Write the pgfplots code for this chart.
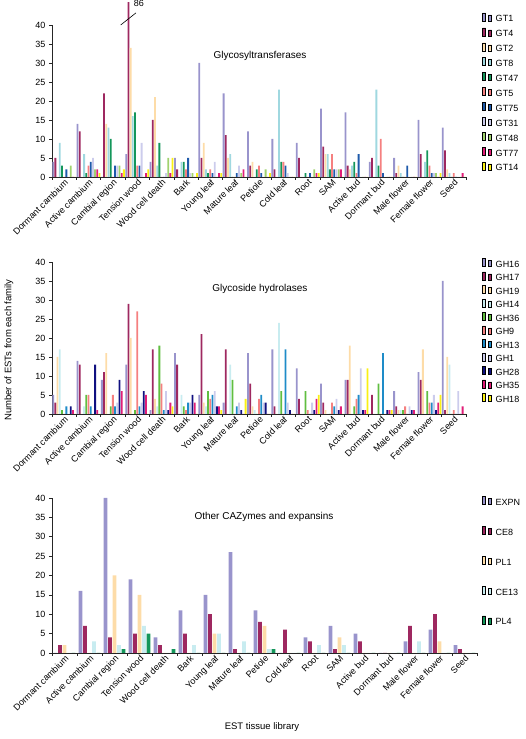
\documentclass[border=0pt]{standalone}
\usepackage{fontspec}
\setmainfont{Liberation Sans}
\usepackage{pgfplots}
\usepackage{pgfplotstable}
\pgfplotsset{compat=1.18}

\definecolor{cA}{RGB}{153,148,204}
\definecolor{cB}{RGB}{158,40,96}
\definecolor{cC}{RGB}{253,220,168}
\definecolor{cD}{RGB}{160,216,224}
\definecolor{cDl}{RGB}{200,236,240}
\definecolor{cE}{RGB}{20,150,90}
\definecolor{cEl}{RGB}{96,190,64}
\definecolor{cF}{RGB}{245,128,128}
\definecolor{cG}{RGB}{30,90,170}
\definecolor{cGl}{RGB}{30,140,200}
\definecolor{cH}{RGB}{204,204,236}
\definecolor{cI}{RGB}{160,210,110}
\definecolor{cN}{RGB}{16,16,128}
\definecolor{cJ}{RGB}{225,30,120}
\definecolor{cK}{RGB}{250,240,20}

% Glycosyltransferases (Tension wood GT4 = 86, drawn broken at 46)
\pgfplotstableread{
x GTa GTb GTc GTd GTe GTf GTg GTh GTi GTj GTk
0 4 5 0 9 3 0 2 0 3 0 0
1 14 12 0 6 1 3 4 5 2 2 1
2 0 22 14 13 10 0 3 3 3 1 2
3 6 46 34 16 17 3 3 9 0 1 2
4 4 15 21 3 9 0 0 1 5 1 5
5 5 2 0 4 4 2 5 1 1 0 1
6 30 5 9 2 1 2 1 4 0 1 1
7 22 11 5 6 0 0 1 3 1 2 0
8 12 3 4 0 2 3 1 0 2 0 1
9 10 2 0 23 4 4 3 1 0 0 0
10 9 5 0 0 1 0 1 0 2 1 1
11 18 8 6 6 2 6 2 2 2 2 0
12 17 3 2 3 4 1 6 0 0 0 0
13 4 5 0 23 3 10 1 0 0 0 0
14 5 1 3 1 0 0 3 0 0 0 0
15 15 6 0 4 7 3 1 1 1 0 1
16 13 7 2 1 0 1 0 0 0 1 0
}\gtdata

% Glycoside hydrolases
\pgfplotstableread{
x GHa GHb GHc GHd GHe GHf GHg GHh GHi GHj GHk
0 5 3 15 17 1 0 2 0 2 1 0
1 14 13 0 2 5 5 2 0 13 1 0
2 9 11 16 0 2 5 2 3 9 6 0
3 13 29 20 0 1 27 2 3 6 5 0
4 1 17 4 2 18 8 1 6 1 3 2
5 16 13 0 5 2 1 3 3 5 3 0
6 5 21 3 2 6 4 5 6 2 2 1
7 3 17 0 13 9 0 2 3 1 0 4
8 16 8 2 1 0 4 5 3 3 0 0
9 17 2 0 24 6 0 17 3 1 0 0
10 12 4 0 0 6 1 0 3 1 4 5
11 8 3 1 0 0 3 2 4 1 2 0
12 9 9 18 0 2 4 5 12 1 1 12
13 0 5 0 0 8 0 16 0 1 1 1
14 6 2 1 1 1 2 0 2 1 1 0
15 11 9 17 0 6 3 3 5 1 3 5
16 35 1 15 13 0 1 0 6 0 2 0
}\ghdata

% Other CAZymes and expansins
\pgfplotstableread{
x EXPN CEe PLa CEt PLd
0 0 2 2 0 0
1 16 7 0 3 0
2 40 4 20 2 1
3 19 5 15 7 5
4 4 2 0 0 1
5 11 5 0 2 0
6 15 10 5 5 0
7 26 1 0 3 0
8 11 8 7 1 1
9 0 6 0 0 0
10 4 3 0 2 0
11 7 1 4 2 0
12 5 3 0 0 0
13 0 0 0 0 0
14 3 7 0 3 0
15 6 10 3 0 0
16 2 1 0 0 0
}\otherdata

\pgfplotsset{
  panel/.style={
    scale only axis, anchor=south west,
    ymin=0, ymax=40, xmin=-0.5, xmax=16.5,
    axis lines*=left,
    axis line style={black!85, line width=0.5pt},
    ytick={0,5,...,40},
    xtick={-0.5,0.5,...,16.5}, xticklabels={},
    extra x ticks={0,...,16},
    extra x tick labels={Dormant cambium,Active cambium,Cambial region,Tension wood,Wood cell death,Bark,Young leaf,Mature leaf,Petiole,Cold leaf,Root,SAM,Active bud,Dormant bud,Male flower,Female flower,Seed},
    extra x tick style={major tick length=0pt, tick label style={rotate=45, anchor=north east, inner sep=1pt}},
    tick align=outside, major tick length=3pt,
    tick style={black!85, line width=0.5pt},
    tick label style={font=\fontsize{9}{10}\selectfont},
    /pgf/number format/assume math mode=true,
    clip=false,
    legend cell align=left,
    legend image code/.code={\draw[##1,draw=black!80,line width=0.3pt] (0pt,-0.8pt) rectangle (7.5pt,6.7pt);},
    legend style={draw=none, fill=none, inner sep=0pt, anchor=north west,
      font=\fontsize{9}{10}\selectfont,
      nodes={inner xsep=4pt, inner ysep=0pt, text height=7pt, text depth=1pt}},
  },
  elevenbars/.style={ybar=0.4pt, bar width=1.8pt, width=414pt, height=152pt},
}

\begin{document}
\begin{tikzpicture}
\path[use as bounding box] (0,0) rectangle (526pt,739pt);

% Panel 1
\begin{axis}[panel, elevenbars, at={(52pt,562pt)},
  legend style={at={(1.039,1.082)}, row sep=4.7pt}]
\addplot[fill=cA, draw=none] table[x=x,y=GTa]{\gtdata};
\addplot[fill=cB, draw=none] table[x=x,y=GTb]{\gtdata};
\addplot[fill=cC, draw=none] table[x=x,y=GTc]{\gtdata};
\addplot[fill=cD, draw=none] table[x=x,y=GTd]{\gtdata};
\addplot[fill=cE, draw=none] table[x=x,y=GTe]{\gtdata};
\addplot[fill=cF, draw=none] table[x=x,y=GTf]{\gtdata};
\addplot[fill=cG, draw=none] table[x=x,y=GTg]{\gtdata};
\addplot[fill=cH, draw=none] table[x=x,y=GTh]{\gtdata};
\addplot[fill=cI, draw=none] table[x=x,y=GTi]{\gtdata};
\addplot[fill=cJ, draw=none] table[x=x,y=GTj]{\gtdata};
\addplot[fill=cK, draw=none] table[x=x,y=GTk]{\gtdata};
\legend{GT1,GT4,GT2,GT8,GT47,GT5,GT75,GT31,GT48,GT77,GT14}
\node[font=\fontsize{10}{12}\selectfont] at (axis cs:8.04,31.8) {Glycosyltransferases};
\draw[black, line width=0.6pt] (axis cs:2.32,40) -- (axis cs:2.95,43.2);
\node[anchor=west, inner sep=0pt, font=\fontsize{9}{10}\selectfont] at (axis cs:2.85,45.6) {86};
\end{axis}

% Panel 2
\begin{axis}[panel, elevenbars, at={(52pt,325pt)},
  legend style={at={(1.039,1.026)}, row sep=3.3pt}]
\addplot[fill=cA, draw=none] table[x=x,y=GHa]{\ghdata};
\addplot[fill=cB, draw=none] table[x=x,y=GHb]{\ghdata};
\addplot[fill=cC, draw=none] table[x=x,y=GHc]{\ghdata};
\addplot[fill=cDl, draw=none] table[x=x,y=GHd]{\ghdata};
\addplot[fill=cEl, draw=none] table[x=x,y=GHe]{\ghdata};
\addplot[fill=cF, draw=none] table[x=x,y=GHf]{\ghdata};
\addplot[fill=cGl, draw=none] table[x=x,y=GHg]{\ghdata};
\addplot[fill=cH, draw=none] table[x=x,y=GHh]{\ghdata};
\addplot[fill=cN, draw=none] table[x=x,y=GHi]{\ghdata};
\addplot[fill=cJ, draw=none] table[x=x,y=GHj]{\ghdata};
\addplot[fill=cK, draw=none] table[x=x,y=GHk]{\ghdata};
\legend{GH16,GH17,GH19,GH14,GH36,GH9,GH13,GH1,GH28,GH35,GH18}
\node[font=\fontsize{10}{12}\selectfont] at (axis cs:8.04,33) {Glycoside hydrolases};
\end{axis}

% Panel 3
\begin{axis}[panel, ybar=0.9pt, bar width=3.6pt, width=425pt, height=155pt, at={(52pt,86pt)},
  legend style={at={(1.012,1.013)}, row sep=19.7pt}]
\addplot[fill=cA, draw=none] table[x=x,y=EXPN]{\otherdata};
\addplot[fill=cB, draw=none] table[x=x,y=CEe]{\otherdata};
\addplot[fill=cC, draw=none] table[x=x,y=PLa]{\otherdata};
\addplot[fill=cDl, draw=none] table[x=x,y=CEt]{\otherdata};
\addplot[fill=cE, draw=none] table[x=x,y=PLd]{\otherdata};
\legend{EXPN,CE8,PL1,CE13,PL4}
\node[font=\fontsize{10}{12}\selectfont] at (axis cs:7.98,35.2) {Other CAZymes and expansins};
\end{axis}

\node[rotate=90, font=\fontsize{9.5}{11}\selectfont] at (9pt,389pt) {Number of ESTs from each family};
\node[font=\fontsize{9.5}{11}\selectfont] at (262pt,12pt) {EST tissue library};
\end{tikzpicture}
\end{document}
